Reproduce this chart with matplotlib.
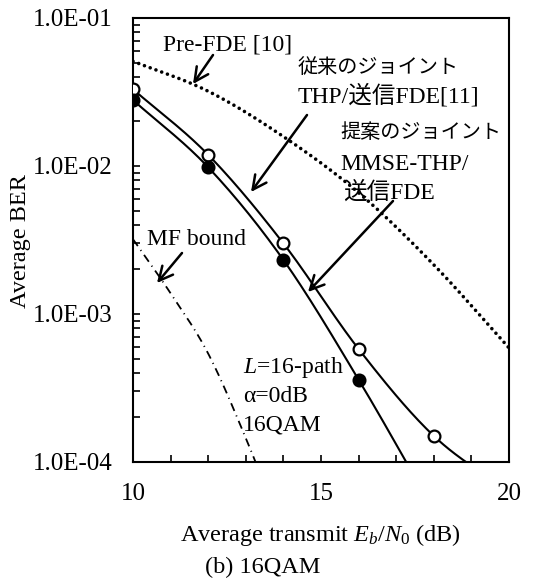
import numpy as np
import matplotlib
matplotlib.use("Agg")
import matplotlib.pyplot as plt
from matplotlib.ticker import FixedLocator, LogLocator, NullFormatter, FuncFormatter

plt.rcParams['font.family'] = ['Liberation Serif', 'Noto Sans CJK JP']
plt.rcParams['mathtext.fontset'] = 'custom'
plt.rcParams['mathtext.rm'] = 'Liberation Serif'
plt.rcParams['mathtext.it'] = 'Liberation Serif:italic'
plt.rcParams['lines.scale_dashes'] = False

# ---- data ----
snr_conv = [10, 12, 14, 16, 18, 20]
ber_conv = [3.3e-2, 1.19e-2, 3.0e-3, 5.8e-4, 1.5e-4, 6.3e-5]      # 従来のジョイントTHP/送信FDE (open)
snr_prop = [10, 12, 14, 16, 18]
ber_prop = [2.79e-2, 9.8e-3, 2.32e-3, 3.6e-4, 4.7e-5]             # 提案 MMSE-THP/送信FDE (filled)
snr_pre = [10, 12, 14, 16, 18, 20]
ber_pre = [5.1e-2, 3.2e-2, 1.58e-2, 6.6e-3, 2.15e-3, 5.9e-4]      # Pre-FDE [10]
snr_mf = [10, 11, 12, 13, 14]
ber_mf = [3.2e-3, 1.38e-3, 5.4e-4, 1.45e-4, 3.3e-5]               # MF bound
marker_snr_conv = snr_conv[:5]
marker_snr_prop = snr_prop[:4]

x_ticks = list(range(10, 21))
x_labels = {10: "10", 15: "15", 20: "20"}
y_ticks = [1e-1, 1e-2, 1e-3, 1e-4]
y_labels = ["1.0E-01", "1.0E-02", "1.0E-03", "1.0E-04"]


def smooth(xs, ys, n=40):
    """Catmull-Rom smoothing in (x, log10 y) space, like a smoothed spreadsheet line."""
    x = np.asarray(xs, float)
    y = np.log10(np.asarray(ys, float))
    px = np.concatenate([[2 * x[0] - x[1]], x, [2 * x[-1] - x[-2]]])
    py = np.concatenate([[2 * y[0] - y[1]], y, [2 * y[-1] - y[-2]]])
    outx, outy = [], []
    t = np.linspace(0, 1, n)
    for i in range(1, len(px) - 2):
        m1x = (px[i + 1] - px[i - 1]) / 2; m2x = (px[i + 2] - px[i]) / 2
        m1y = (py[i + 1] - py[i - 1]) / 2; m2y = (py[i + 2] - py[i]) / 2
        h00 = 2 * t**3 - 3 * t**2 + 1; h10 = t**3 - 2 * t**2 + t
        h01 = -2 * t**3 + 3 * t**2; h11 = t**3 - t**2
        outx.append(h00 * px[i] + h10 * m1x + h01 * px[i + 1] + h11 * m2x)
        outy.append(h00 * py[i] + h10 * m1y + h01 * py[i + 1] + h11 * m2y)
    return np.concatenate(outx), 10 ** np.concatenate(outy)


W, H = 541, 580
fig = plt.figure(figsize=(W / 100, H / 100), dpi=100)
L, R, T, B = 133, 509, 18, 462
ax = fig.add_axes([L / W, 1 - B / H, (R - L) / W, (B - T) / H])
ax.set_yscale('log')
ax.set_xlim(10, 20)
ax.set_ylim(1e-4, 1e-1)

lw = 1.5
xs, ys = smooth(snr_pre, ber_pre)
ax.plot(xs, ys, color='black', lw=2.6, linestyle=(0, (0.01, 4.4)), dash_capstyle='round')
xs, ys = smooth(snr_mf, ber_mf)
ax.plot(xs, ys, color='black', lw=1.3, linestyle=(0, (6, 3.5, 0.8, 3.5)))
xs, ys = smooth(snr_conv, ber_conv)
ax.plot(xs, ys, color='black', lw=lw)
xs, ys = smooth(snr_prop, ber_prop)
ax.plot(xs, ys, color='black', lw=lw)
ax.plot(marker_snr_conv, ber_conv[:5], 'o', ms=8.5, mfc='white', mec='black', mew=1.6, ls='none', zorder=5)
ax.plot(marker_snr_prop, ber_prop[:4], 'o', ms=8.5, mfc='black', mec='black', mew=1.6, ls='none', zorder=5)

# axes styling
for s in ax.spines.values():
    s.set_linewidth(1.5)
ax.xaxis.set_major_locator(FixedLocator(x_ticks))
ax.xaxis.set_major_formatter(FuncFormatter(lambda v, p: x_labels.get(int(round(v)), "")))
ax.yaxis.set_major_locator(FixedLocator(y_ticks))
ax.yaxis.set_major_formatter(FuncFormatter(lambda v, p: y_labels[y_ticks.index(min(y_ticks, key=lambda t: abs(np.log10(t) - np.log10(v))))]))
ax.yaxis.set_minor_locator(LogLocator(base=10, subs=np.arange(2, 10)))
ax.yaxis.set_minor_formatter(NullFormatter())
ax.tick_params(axis='both', which='both', direction='in', top=False, right=False, width=1.2,
               labelsize=18, pad=15)
ax.tick_params(axis='both', which='major', length=5)
ax.tick_params(axis='y', which='minor', length=5)

fs = 17


def ftext(x, y, s, **kw):
    kw.setdefault('fontsize', fs)
    kw.setdefault('va', 'baseline')
    fig.text(x / W, 1 - y / H, s, **kw)


def arrow(x0, y0, x1, y1):
    fig.add_artist(matplotlib.patches.FancyArrowPatch(
        (x0 / W, 1 - y0 / H), (x1 / W, 1 - y1 / H), transform=fig.transFigure,
        arrowstyle='->,head_length=10,head_width=5', lw=1.8, color='black', shrinkA=0, shrinkB=0))


ftext(163, 50, "Pre-FDE [10]")
ftext(298, 73, "従来のジョイント", fontsize=14.5)
ftext(298, 103, "THP/送信FDE[11]")
ftext(340, 138, "提案のジョイント", fontsize=14.5)
ftext(340, 170, "MMSE-THP/")
ftext(343, 199, "送信FDE")
ftext(147, 245, "MF bound")
ftext(243, 373, r"$\mathit{L}$=16-path")
ftext(243, 402, "α=0dB")
ftext(243, 431, "16QAM")
ftext(320, 541, r"Average transmit $\mathit{E_b}/\mathit{N}_0$ (dB)", ha='center', fontsize=17.5)
ftext(205, 573, "(b) 16QAM", fontsize=17.5)
fig.text(21 / W, 1 - 241 / H, "Average BER", rotation=90, ha='center', va='center', fontsize=17.5)

arrow(213, 55, 193, 84)
arrow(307, 115, 251, 192)
arrow(393, 201, 308, 292)
arrow(182, 253, 157, 283)

fig.savefig("out.png", dpi=100)
